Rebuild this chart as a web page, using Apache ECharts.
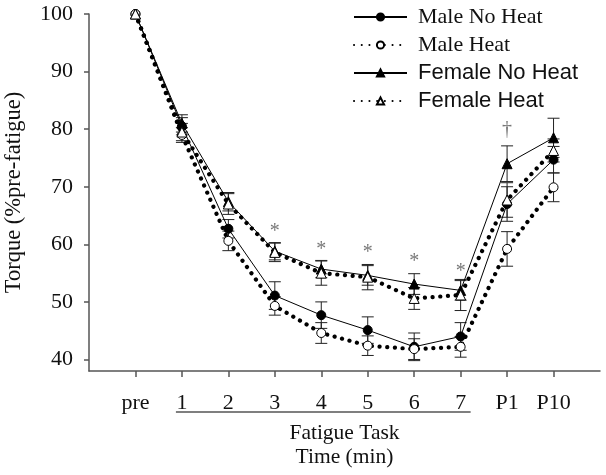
<!DOCTYPE html>
<html><head><meta charset="utf-8">
<script src="https://cdn.jsdelivr.net/npm/echarts@6/dist/echarts.min.js"></script>
<style>html,body{margin:0;padding:0;background:#fff}#c{width:606px;height:475px}</style>
</head><body><div id="c"></div>
<script>
const categories = ['pre','1','2','3','4','5','6','7','P1','P10'];
const yTicks = [40,50,60,70,80,90,100];
const maleNoHeat   = [100, 80.5, 62.7, 51.1, 47.7, 45.1, 42.2, 44.0, 67.0, 74.7];
const maleHeat     = [100, 79.0, 60.6, 49.3, 44.6, 42.4, 41.8, 42.2, 59.2, 69.9];
const femaleNoHeat = [100, 81.0, 67.4, 58.8, 55.7, 54.6, 53.1, 52.0, 74.0, 78.5];
const femaleHeat   = [100, 79.5, 67.0, 58.6, 55.0, 54.3, 50.6, 51.2, 67.7, 76.3];
const maleNoHeatSE   = [0, 1.5, 1.6, 2.4, 2.3, 2.3, 2.4, 2.4, 3.0, 2.3];
const maleHeatSE     = [0, 1.3, 1.7, 1.6, 1.8, 1.7, 1.8, 1.8, 3.0, 2.5];
const femaleNoHeatSE = [0, 1.5, 1.6, 1.5, 1.5, 1.7, 1.8, 1.7, 3.1, 3.4];
const femaleHeatSE   = [0, 1.5, 1.8, 1.6, 2.1, 2.2, 1.9, 2.7, 3.0, 2.0];
const sigCats  = ['3','4','5','6','7','P1'];
const sigMarks = ['*','*','*','*','*','†'];
const sigY     = [62.7, 59.6, 59.0, 57.5, 55.8, 80.4];

const SERIF = 'Liberation Serif', SANS = 'Liberation Sans';
const chart = echarts.init(document.getElementById('c'), null, {renderer:'canvas'});
const idx = categories.map((c,i)=>i);
const pts = arr => arr.map((v,i)=>[i,v]);
const solid = {color:'#000', width:1, type:'solid'};
const dotted = {color:'#000', width:4.2, type:[0.1,7.6], cap:'round'};

function errSeries(vals, se, name){
  return {
    type:'custom', name: name+' err', z:1, silent:true,
    data: vals.map((v,i)=>[i,v,se[i]]),
    renderItem(params, api){
      const e = api.value(2);
      if(!e) return null;
      const x = api.value(0), y = api.value(1);
      const top = api.coord([x,y+e]), bot = api.coord([x,y-e]);
      const w = 6;
      const st = {stroke:'#222', lineWidth:1};
      return {type:'group', children:[
        {type:'line', shape:{x1:top[0],y1:top[1],x2:bot[0],y2:bot[1]}, style:st},
        {type:'line', shape:{x1:top[0]-w,y1:top[1],x2:top[0]+w,y2:top[1]}, style:st},
        {type:'line', shape:{x1:bot[0]-w,y1:bot[1],x2:bot[0]+w,y2:bot[1]}, style:st}
      ]};
    }
  };
}

const option = {
  animation:false,
  grid:{left:89, right:6, top:14, bottom:104, containLabel:false, outerBoundsMode:'none'},
  legend:{
    orient:'vertical', left:348, top:1, itemWidth:53, itemHeight:9, itemGap:6,
    textStyle:{fontSize:22, color:'#111', padding:[0,0,0,6]},
    data:[
      {name:'Male No Heat', textStyle:{fontFamily:SERIF}},
      {name:'Male Heat', textStyle:{fontFamily:SERIF}},
      {name:'Female No Heat', textStyle:{fontFamily:SANS}},
      {name:'Female Heat', textStyle:{fontFamily:SANS}}
    ]
  },
  xAxis:{
    type:'value', min:-1, max:10,
    name:'Fatigue Task\nTime (min)', nameLocation:'middle', nameGap:50,
    nameTextStyle:{fontFamily:SERIF, fontSize:21.5, color:'#111', lineHeight:24},
    axisLine:{onZero:false, lineStyle:{color:'#555', width:1.5}},
    axisTick:{show:true, length:6, customValues:idx, lineStyle:{color:'#555', width:1.5}},
    axisLabel:{customValues:idx, formatter:v=>categories[v]||'', margin:21,
      fontFamily:SERIF, fontSize:22, color:'#111'},
    splitLine:{show:false}
  },
  yAxis:{
    type:'value', min:38, max:100,
    name:'Torque (%pre-fatigue)', nameLocation:'middle', nameGap:63,
    nameTextStyle:{fontFamily:SERIF, fontSize:22.5, color:'#111'},
    axisLine:{show:true, onZero:false, lineStyle:{color:'#555', width:1.5}},
    axisTick:{show:true, length:5, customValues:yTicks, lineStyle:{color:'#555', width:1.5}},
    axisLabel:{customValues:yTicks, margin:16, fontFamily:SERIF, fontSize:22, color:'#111'},
    splitLine:{show:false}
  },
  series:[
    errSeries(maleNoHeat, maleNoHeatSE, 'Male No Heat'),
    errSeries(maleHeat, maleHeatSE, 'Male Heat'),
    errSeries(femaleNoHeat, femaleNoHeatSE, 'Female No Heat'),
    errSeries(femaleHeat, femaleHeatSE, 'Female Heat'),
    {name:'Male No Heat', type:'line', z:3, data:pts(maleNoHeat), lineStyle:solid,
      symbol:'circle', symbolSize:9, itemStyle:{color:'#000', borderColor:'#000', borderWidth:1}},
    {name:'Male Heat', type:'line', z:3, data:pts(maleHeat), lineStyle:dotted,
      symbol:'circle', symbolSize:9, itemStyle:{color:'#fff', borderColor:'#000', borderWidth:1}},
    {name:'Female No Heat', type:'line', z:3, data:pts(femaleNoHeat), lineStyle:solid,
      symbol:'triangle', symbolSize:10, itemStyle:{color:'#000', borderColor:'#000', borderWidth:1}},
    {name:'Female Heat', type:'line', z:3, data:pts(femaleHeat), lineStyle:dotted,
      symbol:'triangle', symbolSize:10, itemStyle:{color:'#fff', borderColor:'#000', borderWidth:1}},
    {name:'sig', type:'scatter', z:4, symbol:'rect', symbolSize:1, silent:true,
      itemStyle:{color:'rgba(0,0,0,0)'},
      data: sigCats.map((c,i)=>({value:[categories.indexOf(c), sigY[i]], mark:sigMarks[i]})),
      label:{show:true, position:'inside', offset:[0,3], formatter:p=>p.data.mark,
        fontFamily:SERIF, fontSize:20, color:'#555'}}
  ]
};
chart.setOption(option);
const x1 = chart.convertToPixel({gridIndex:0}, [categories.indexOf('1'),40])[0] - 6;
const x2 = chart.convertToPixel({gridIndex:0}, [categories.indexOf('7'),40])[0] + 10;
chart.setOption({graphic:[{type:'line', shape:{x1:x1,y1:412,x2:x2,y2:412}, style:{stroke:'#555', lineWidth:1.5}}]});
</script></body></html>
